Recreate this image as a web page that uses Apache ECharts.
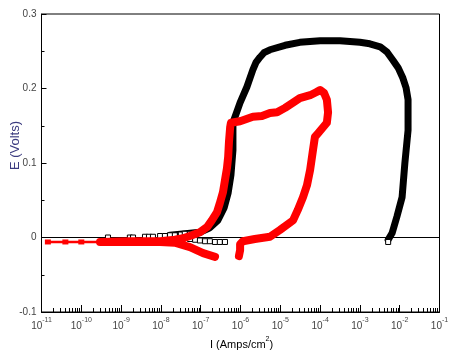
<!DOCTYPE html>
<html><head><meta charset="utf-8">
<script src="https://cdn.jsdelivr.net/npm/echarts@6/dist/echarts.min.js"></script>
<style>html,body{margin:0;padding:0;background:#fff}#c{width:464px;height:357px}</style>
</head><body><div id="c"></div>
<script>
// x values are log10(I / A cm^-2), y values are E (V)
var xTickExponents = [-11,-10,-9,-8,-7,-6,-5,-4,-3,-2,-1];
var yTicks = [-0.1, 0, 0.1, 0.2, 0.3];

// black curve: dense trace (thick line)
var blackLogI = [-7.77,-7.39,-7.02,-6.77,-6.57,-6.41,-6.31,-6.24,-6.19,-6.19,-6.01,-5.84,-5.69,-5.61,-5.51,-5.41,-5.26,-4.88,-4.51,-4.00,-3.50,-3.00,-2.75,-2.49,-2.32,-2.17,-2.04,-1.92,-1.84,-1.79,-1.79,-1.79,-1.87,-1.94,-2.07,-2.19,-2.29];
var blackE    = [0.003,0.005,0.007,0.013,0.023,0.040,0.060,0.084,0.117,0.154,0.181,0.202,0.225,0.235,0.242,0.248,0.252,0.258,0.262,0.264,0.264,0.262,0.260,0.256,0.249,0.238,0.228,0.214,0.201,0.185,0.171,0.144,0.100,0.054,0.028,0.006,-0.003];
// black curve: sparse open squares
var blackPtsLogI = [-9.33,-8.78,-8.70,-8.40,-8.30,-8.20,-8.02,-7.90,-7.77,-7.65,-7.50,-7.40,-7.27,-7.14,-7.02,-7.27,-7.14,-7.02,-6.89,-6.77,-6.64,-6.52,-6.39,-2.29];
var blackPtsE    = [0.000,0.000,0.000,0.001,0.001,0.001,0.002,0.002,0.003,0.003,0.004,0.005,0.005,0.006,0.007,-0.002,-0.003,-0.004,-0.005,-0.005,-0.006,-0.006,-0.006,-0.006];

// red curve: sparse tail (thin line)
var redTailLogI = [-9.53,-10.00,-10.40,-10.84];
var redTailE    = [-0.006,-0.006,-0.006,-0.006];
// red curve: dense trace (thick line)
var redLogI = [-6.64,-6.82,-6.94,-7.27,-7.65,-8.02,-8.78,-9.53,-8.78,-8.02,-7.65,-7.44,-7.22,-7.02,-6.84,-6.72,-6.59,-6.52,-6.44,-6.39,-6.34,-6.31,-6.29,-6.26,-6.24,-6.01,-5.69,-5.46,-5.26,-5.08,-4.88,-4.68,-4.51,-4.25,-4.10,-4.00,-3.90,-3.83,-3.80,-3.83,-4.05,-4.13,-4.18,-4.25,-4.33,-4.43,-4.56,-4.68,-5.01,-5.26,-5.64,-5.94,-6.01,-6.01,-6.04];
var redE    = [-0.026,-0.023,-0.021,-0.013,-0.007,-0.006,-0.006,-0.006,-0.005,-0.005,-0.003,-0.001,0.003,0.007,0.014,0.023,0.034,0.046,0.061,0.077,0.093,0.108,0.128,0.148,0.154,0.156,0.162,0.163,0.167,0.168,0.174,0.181,0.187,0.191,0.195,0.198,0.194,0.185,0.168,0.154,0.140,0.135,0.117,0.091,0.070,0.054,0.037,0.023,0.010,0.001,-0.002,-0.005,-0.009,-0.017,-0.025];
var zeroLineLogI = [-11, -1];
var zeroLineE = [0, 0];

function zip(a, b) { return a.map(function (v, i) { return [v, b[i]]; }); }
var minorTickValues = [];
for (var n = -11; n < -1; n++) for (var k = 2; k <= 9; k++) minorTickValues.push(n + Math.log10(k));

var FONT = 'Liberation Sans, Arial, sans-serif';
var chart = echarts.init(document.getElementById('c'), null, {renderer: 'canvas'});
chart.setOption({
  animation: false,
  grid: {left: 41.5, right: 24.5, top: 14, bottom: 45, show: true, borderColor: '#000', borderWidth: 1, containLabel: false},
  xAxis: [{
    type: 'value', min: -11, max: -1, interval: 1, position: 'bottom',
    axisLine: {show: true, onZero: false, lineStyle: {color: '#000', width: 1}},
    axisTick: {show: true, inside: true, length: 7, lineStyle: {color: '#000'}},
    splitLine: {show: false},
    axisLabel: {
      margin: 5, color: '#444', fontFamily: FONT,
      formatter: function (v) { return '{b|10}{s|' + v + '}'; },
      rich: {
        b: {fontSize: 10, fontFamily: FONT, color: '#444', lineHeight: 14, verticalAlign: 'bottom'},
        s: {fontSize: 7, fontFamily: FONT, color: '#444', lineHeight: 14, verticalAlign: 'top'}
      }
    }
  }, {
    type: 'value', min: -11, max: -1, position: 'bottom', gridIndex: 0,
    axisLine: {show: false, onZero: false},
    axisTick: {show: true, inside: true, length: 4, customValues: minorTickValues, lineStyle: {color: '#000'}},
    axisLabel: {show: false},
    splitLine: {show: false}
  }],
  yAxis: {
    type: 'value', min: -0.1, max: 0.3, interval: 0.1,
    axisLine: {show: true, onZero: false, lineStyle: {color: '#000', width: 1}},
    axisTick: {show: true, inside: true, length: 5, lineStyle: {color: '#000'}},
    minorTick: {show: true, splitNumber: 2, length: 3, lineStyle: {color: '#000'}},
    splitLine: {show: false},
    axisLabel: {margin: 5, fontSize: 10, color: '#444', fontFamily: FONT,
      formatter: function (v) { return String(Math.round(v * 10) / 10); }}
  },
  graphic: [
    {type: 'text', left: 9, top: 121, rotation: Math.PI / 2, style: {text: 'E (Volts)', font: '13px ' + FONT, fill: '#3c3c80'}},
    {type: 'text', left: 210, top: 336, style: {rich: {a: {fontSize: 11, fontFamily: FONT, color: '#333', lineHeight: 14, verticalAlign: 'bottom'}, s: {fontSize: 7, fontFamily: FONT, color: '#333', lineHeight: 14, verticalAlign: 'top'}}, text: '{a|I (Amps/cm}{s|2}{a|)}'}}
  ],
  series: [
    {type: 'line', data: zip(zeroLineLogI, zeroLineE), symbol: 'none', silent: true, z: 1,
     lineStyle: {color: '#000', width: 1}},
    {type: 'line', data: zip(blackLogI, blackE), symbol: 'none', z: 2,
     lineStyle: {color: '#000', width: 7, cap: 'round', join: 'round'}},
    {type: 'scatter', data: zip(blackPtsLogI, blackPtsE), symbol: 'rect', symbolSize: 5, z: 3,
     itemStyle: {color: '#fff', borderColor: '#000', borderWidth: 1, opacity: 1}},
    {type: 'line', data: zip(redTailLogI, redTailE), z: 4, symbol: 'rect', symbolSize: [6, 5], showAllSymbol: true,
     itemStyle: {color: '#f00', borderWidth: 0},
     lineStyle: {color: '#f00', width: 2.5}},
    {type: 'line', data: zip(redLogI, redE), symbol: 'none', z: 5,
     lineStyle: {color: '#f00', width: 8, cap: 'round', join: 'round'}}
  ]
});
</script></body></html>
